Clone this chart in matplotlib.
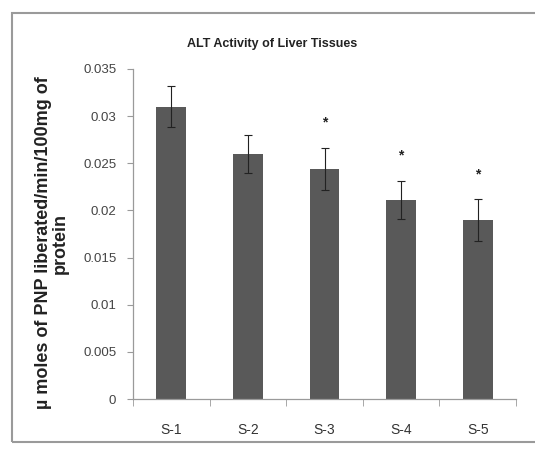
import numpy as np
import matplotlib
matplotlib.use("Agg")
import matplotlib.pyplot as plt
from matplotlib.patches import Rectangle

samples = ["S-1", "S-2", "S-3", "S-4", "S-5"]
alt_activity = [0.0310, 0.0260, 0.0244, 0.0211, 0.0190]
alt_error = [0.0022, 0.0020, 0.0022, 0.0020, 0.0022]
star_level = [None, None, 0.0293, 0.0258, 0.0238]
yticks = [0, 0.005, 0.01, 0.015, 0.02, 0.025, 0.03, 0.035]
ytick_labels = ["0", "0.005", "0.01", "0.015", "0.02", "0.025", "0.03", "0.035"]

plt.rcParams['font.family'] = ['Liberation Sans', 'DejaVu Sans']

fig = plt.figure(figsize=(5.35, 4.49), dpi=100)
fig.patches.append(Rectangle((12 / 535, 1 - 442 / 449), 0.99, (442 - 13) / 449,
                             transform=fig.transFigure, fill=False,
                             edgecolor="#9a9a9a", linewidth=1.5))

ax = fig.add_axes([133 / 535, 1 - 399 / 449, 383 / 535, 330 / 449])
x = np.arange(len(samples))
ax.bar(x, alt_activity, width=0.39, color="#595959", zorder=2)
ax.errorbar(x, alt_activity, yerr=alt_error, fmt="none", ecolor="#222222",
            elinewidth=0.8, capsize=3, capthick=0.8, zorder=3)
for xi, s in zip(x, star_level):
    if s is not None:
        ax.text(xi, s, "*", ha="center", va="center", fontsize=10,
                fontweight="bold", color="#222222")

ax.set_xlim(-0.5, len(samples) - 0.5)
ax.set_ylim(0, 0.035)
ax.set_yticks(yticks)
ax.set_yticklabels(ytick_labels)
ax.set_xticks(x)
ax.set_xticklabels(samples)
ax.set_xticks(np.arange(-0.5, len(samples), 1.0), minor=True)
ax.tick_params(axis="x", which="major", length=0, pad=17, labelsize=10, colors="#333333")
ax.tick_params(axis="x", which="minor", length=5, color="#9a9a9a", direction="out")
ax.tick_params(axis="y", length=4, pad=8, color="#9a9a9a", labelsize=9.5, labelcolor="#444444")
for side in ["top", "right"]:
    ax.spines[side].set_visible(False)
for side in ["left", "bottom"]:
    ax.spines[side].set_color("#9a9a9a")
    ax.spines[side].set_linewidth(0.9)

fig.text(272 / 535, 1 - 44 / 449, "ALT Activity of Liver Tissues", ha="center",
         va="center", fontsize=9, fontweight="bold", color="#222222")
fig.text(52 / 535, 1 - 243 / 449, "µ moles of PNP liberated/min/100mg of\nprotein",
         ha="center", va="center", rotation=90, fontsize=13, fontweight="bold",
         color="#222222", linespacing=1.0)

fig.savefig("out.png", dpi=100)
